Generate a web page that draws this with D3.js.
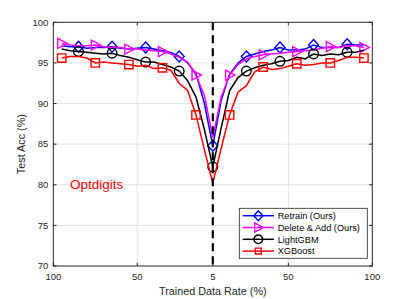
<!DOCTYPE html>
<html>
<head>
<meta charset="utf-8">
<script src="https://cdn.jsdelivr.net/npm/d3@7"></script>
<style>
  body { margin: 0; background: #fff; }
  svg { display: block; font-family: "Liberation Sans", Arial, sans-serif; }
</style>
</head>
<body>
<script>
// Test accuracy vs trained data rate, mirrored axis (100 -> 5 -> 100)

const leftRates = [95, 90, 85, 80, 75, 70, 65, 60, 55, 50, 45, 40, 35, 30, 25, 20, 15, 10, 5]
const rightRates = [10, 15, 20, 25, 30, 35, 40, 45, 50, 55, 60, 65, 70, 75, 80, 85, 90, 95]

const retrainLeft = [97.1, 97.0, 97.0, 96.8, 96.9, 96.9, 97.0, 96.8, 96.7, 96.8, 96.9, 96.7, 96.5, 96.3, 95.8, 95.0, 93.7, 90.0, 84.8]
const retrainRight = [90.4, 93.6, 95.0, 95.8, 96.1, 96.4, 96.6, 96.9, 96.6, 96.6, 96.7, 97.2, 96.9, 96.9, 96.9, 97.3, 97.2, 97.2]

const deleteAddLeft = [97.4, 97.2, 97.1, 97.1, 97.2, 97.0, 96.9, 96.9, 96.7, 96.7, 96.6, 96.5, 96.4, 96.1, 95.7, 95.1, 93.5, 91.0, 85.8]
const deleteAddRight = [90.8, 93.5, 94.8, 95.5, 95.8, 96.0, 96.1, 96.2, 96.3, 96.4, 96.5, 96.6, 96.8, 97.0, 96.9, 97.1, 97.1, 96.9]

const lightgbmLeft = [96.7, 96.5, 96.4, 96.3, 96.2, 96.1, 96.2, 95.9, 95.7, 95.4, 95.1, 95.1, 94.8, 94.5, 94.0, 92.8, 90.8, 86.8, 82.2]
const lightgbmRight = [87.0, 91.6, 93.2, 94.0, 94.4, 94.7, 94.9, 95.2, 95.3, 95.7, 95.5, 96.1, 95.9, 96.1, 96.0, 96.3, 96.3, 96.6]

const xgboostLeft = [95.6, 95.8, 95.8, 95.6, 95.0, 95.1, 95.0, 94.9, 94.8, 94.6, 94.7, 94.3, 94.4, 94.1, 92.5, 91.6, 88.6, 84.3, 80.2]
const xgboostRight = [84.5, 88.6, 91.4, 92.2, 93.9, 94.5, 94.2, 94.3, 94.6, 94.9, 94.7, 94.8, 95.0, 95.0, 95.3, 95.7, 95.7, 95.6]

const seriesNames = ["Retrain (Ours)", "Delete & Add (Ours)", "LightGBM", "XGBoost"]
const seriesColors = ["#0000ff", "#ff00ff", "#000000", "#ff0000"]
const seriesMarkers = ["diamond", "triangle", "circle", "square"]
const markerOffset = [2, 0, 2, 0]   // marker every 4th point, starting here

const yTicks = [70, 75, 80, 85, 90, 95, 100]
const xTicksLeft = [100, 50]
const xTicksRight = [5, 50, 100]

const W = 411, H = 299
const margin = { top: 22.3, right: 38.7, bottom: 33, left: 53.3 }
const width = W - margin.left - margin.right
const height = H - margin.top - margin.bottom

const svg = d3.select("body").append("svg")
    .attr("width", W)
    .attr("height", H)

const g = svg.append("g")
    .attr("transform", "translate(" + margin.left + "," + margin.top + ")")

const xl = d3.scaleLinear().domain([100, 5]).range([0, width / 2])
const xr = d3.scaleLinear().domain([5, 100]).range([width / 2, width])
const y = d3.scaleLinear().domain([70, 100]).range([height, 0])

const axisColor = "#262626"
const gridColor = "#e3e3e3"

// grid
g.append("g").selectAll("line")
    .data(yTicks.slice(1, -1))
    .enter().append("line")
    .attr("x1", 0).attr("x2", width)
    .attr("y1", d => y(d)).attr("y2", d => y(d))
    .attr("stroke", gridColor).attr("stroke-width", 1)

const xGrid = [xl(50), xr(5), xr(50)]
g.append("g").selectAll("line")
    .data(xGrid)
    .enter().append("line")
    .attr("x1", d => d).attr("x2", d => d)
    .attr("y1", 0).attr("y2", height)
    .attr("stroke", gridColor).attr("stroke-width", 1)

// series
function build(left, right) {
    let pts = []
    leftRates.forEach((r, i) => pts.push({ x: xl(r), v: left[i] }))
    rightRates.forEach((r, i) => pts.push({ x: xr(r), v: right[i] }))
    return pts
}

const allSeries = [
    build(retrainLeft, retrainRight),
    build(deleteAddLeft, deleteAddRight),
    build(lightgbmLeft, lightgbmRight),
    build(xgboostLeft, xgboostRight)
]

function markerPath(type) {
    if (type === "diamond") return "M0,-5.5L5,0L0,5.5L-5,0Z"
    if (type === "triangle") return "M5.5,0L-4,-5L-4,5Z"
    if (type === "square") return "M-4.2,-4.2L4.2,-4.2L4.2,4.2L-4.2,4.2Z"
    return null
}

function drawMarker(sel, type, color, scale) {
    if (type === "circle") {
        sel.append("circle").attr("r", 4.8 * scale)
            .attr("fill", "none").attr("stroke", color).attr("stroke-width", 1.4)
    } else {
        sel.append("path").attr("d", markerPath(type))
            .attr("transform", "scale(" + scale + ")")
            .attr("fill", "none").attr("stroke", color).attr("stroke-width", 1.4 / scale)
    }
}

const line = d3.line().x(d => d.x).y(d => y(d.v))

allSeries.forEach((pts, k) => {
    const sg = g.append("g")
    sg.append("path")
        .datum(pts)
        .attr("d", line)
        .attr("fill", "none")
        .attr("stroke", seriesColors[k])
        .attr("stroke-width", 1.5)
    pts.forEach((p, i) => {
        if (i % 4 === markerOffset[k]) {
            const m = sg.append("g").attr("transform", "translate(" + p.x + "," + y(p.v) + ")")
            drawMarker(m, seriesMarkers[k], seriesColors[k], 1)
        }
    })
})

// dashed line at 5%
g.append("line")
    .attr("x1", xr(5)).attr("x2", xr(5))
    .attr("y1", 0).attr("y2", height)
    .attr("stroke", "#000").attr("stroke-width", 2.2)
    .attr("stroke-dasharray", "8,5")

// box + ticks
g.append("rect")
    .attr("width", width).attr("height", height)
    .attr("fill", "none").attr("stroke", axisColor).attr("stroke-width", 1)

const tickLen = 3.2
const tk = g.append("g").attr("stroke", axisColor).attr("stroke-width", 1)
yTicks.forEach(t => {
    tk.append("line").attr("x1", 0).attr("x2", tickLen).attr("y1", y(t)).attr("y2", y(t))
    tk.append("line").attr("x1", width).attr("x2", width - tickLen).attr("y1", y(t)).attr("y2", y(t))
})
const xTickPos = xTicksLeft.map(t => ({ x: xl(t), t: t })).concat(xTicksRight.map(t => ({ x: xr(t), t: t })))
xTickPos.forEach(d => {
    tk.append("line").attr("x1", d.x).attr("x2", d.x).attr("y1", height).attr("y2", height - tickLen)
    tk.append("line").attr("x1", d.x).attr("x2", d.x).attr("y1", 0).attr("y2", tickLen)
})

// tick labels
g.append("g").selectAll("text")
    .data(yTicks)
    .enter().append("text")
    .attr("x", -5)
    .attr("y", d => y(d))
    .attr("dy", "0.35em")
    .attr("text-anchor", "end")
    .attr("font-size", 9.5)
    .attr("fill", axisColor)
    .text(d => d)

g.append("g").selectAll("text")
    .data(xTickPos)
    .enter().append("text")
    .attr("x", d => d.x)
    .attr("y", height + 14.5)
    .attr("text-anchor", "middle")
    .attr("font-size", 9.5)
    .attr("fill", axisColor)
    .text(d => d.t)

// axis titles
svg.append("text")
    .attr("x", margin.left + width / 2)
    .attr("y", 294.5)
    .attr("text-anchor", "middle")
    .attr("font-size", 10.8)
    .attr("fill", axisColor)
    .text("Trained Data Rate (%)")

svg.append("text")
    .attr("transform", "translate(25," + (margin.top + height / 2) + ") rotate(-90)")
    .attr("text-anchor", "middle")
    .attr("font-size", 10.8)
    .attr("fill", axisColor)
    .text("Test Acc (%)")

// dataset label
g.append("text")
    .attr("x", 70 - margin.left)
    .attr("y", y(80))
    .attr("dy", "0.35em")
    .attr("font-size", 13.5)
    .attr("fill", "#ff0000")
    .text("Optdigits")

// legend
const lg = svg.append("g").attr("transform", "translate(239.3,208.3)")
lg.append("rect")
    .attr("width", 128).attr("height", 50)
    .attr("fill", "#fff").attr("stroke", axisColor).attr("stroke-width", 0.8)

seriesNames.forEach((name, k) => {
    const yy = 7.4 + k * 11.8
    lg.append("line")
        .attr("x1", 3.4).attr("x2", 34.7).attr("y1", yy).attr("y2", yy)
        .attr("stroke", seriesColors[k]).attr("stroke-width", 1.5)
    const m = lg.append("g").attr("transform", "translate(19," + yy + ")")
    drawMarker(m, seriesMarkers[k], seriesColors[k], k === 3 ? 0.7 : 0.9)
    lg.append("text")
        .attr("x", 38.4).attr("y", yy)
        .attr("dy", "0.35em")
        .attr("font-size", 9.2)
        .attr("fill", "#000")
        .text(name)
})
</script>
</body>
</html>
